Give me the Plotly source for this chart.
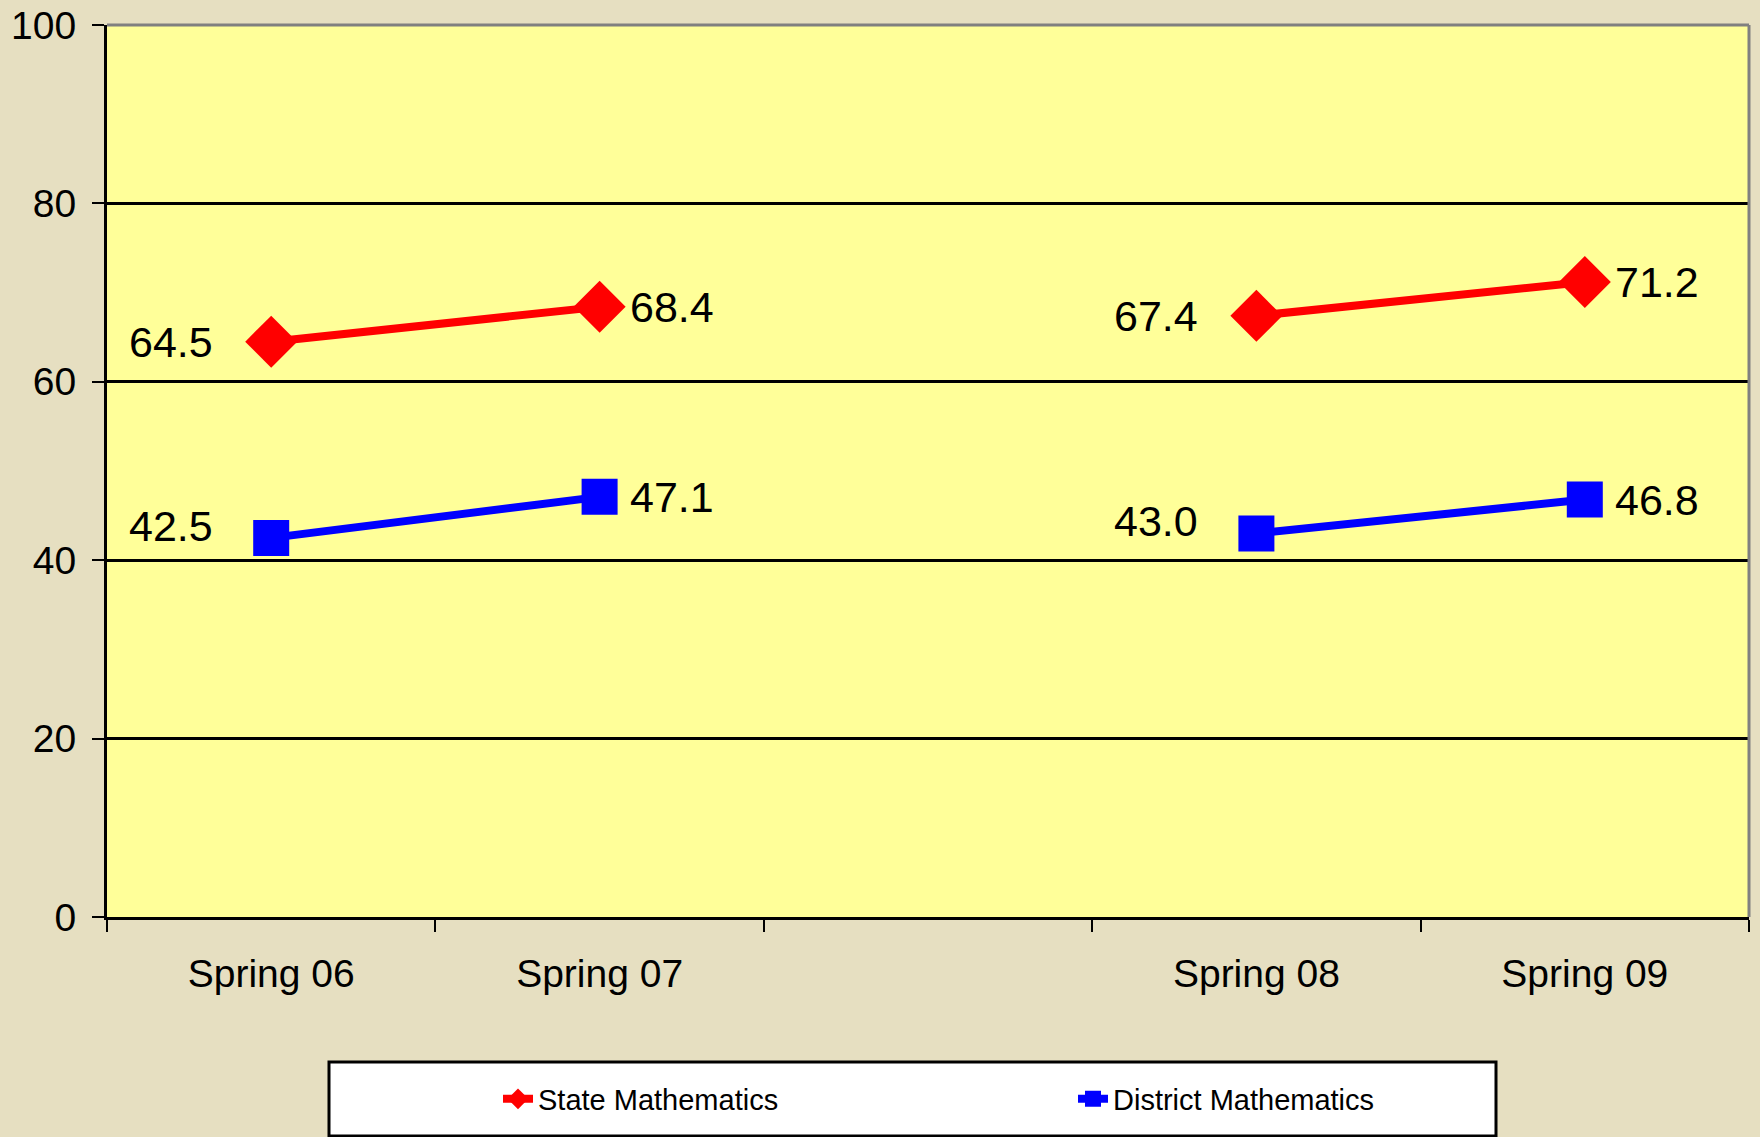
import plotly.graph_objects as go

categories = ["Spring 06", "Spring 07", " ", "Spring 08", "Spring 09"]
state_vals = [64.5, 68.4, None, 67.4, 71.2]
district_vals = [42.5, 47.1, None, 43.0, 46.8]
y_ticks = [0, 20, 40, 60, 80, 100]

W, H = 1760, 1137
L, R, T, B = 107, 11, 25, 220
pw, ph = W - L - R, H - T - B

FONT = "Liberation Sans, Arial, sans-serif"

fig = go.Figure()
fig.add_trace(go.Scatter(
    x=categories, y=state_vals, name="State Mathematics",
    mode="lines+markers",
    line=dict(color="#FF0000", width=8),
    marker=dict(symbol="diamond", size=40, color="#FF0000"),
))
fig.add_trace(go.Scatter(
    x=categories, y=district_vals, name="District Mathematics",
    mode="lines+markers",
    line=dict(color="#0000FF", width=8),
    marker=dict(symbol="square", size=36, color="#0000FF"),
))

# data labels: first of each pair on the left, second on the right
annotations = []
for vals, left_yshift in ((state_vals, 0), (district_vals, 12)):
    for i, (c, v) in enumerate(zip(categories, vals)):
        if v is None:
            continue
        is_left = i in (0, 3)
        annotations.append(dict(
            x=c, y=v, xref="x", yref="y", text=f"{v:.1f}", showarrow=False,
            xanchor="right" if is_left else "left",
            xshift=-56 if is_left else 28,
            yshift=left_yshift if is_left else 0,
            font=dict(family=FONT, size=43, color="black"),
        ))

def px_to_paper_x(px):
    return (px - L) / pw

def px_to_paper_y(py):
    return (H - B - py) / ph

shapes = [
    # legend box
    dict(type="rect", xref="paper", yref="paper",
         x0=px_to_paper_x(329), x1=px_to_paper_x(1496),
         y0=px_to_paper_y(1136), y1=px_to_paper_y(1062),
         fillcolor="white", line=dict(color="black", width=3), layer="above"),
    # grey top and right border of plot area
    dict(type="line", xref="paper", yref="paper", x0=0, x1=1, y0=1, y1=1,
         line=dict(color="#808080", width=3), layer="above"),
    dict(type="line", xref="paper", yref="paper", x0=1, x1=1, y0=0, y1=1,
         line=dict(color="#808080", width=3), layer="above"),
]

fig.update_layout(
    width=W, height=H, autosize=False,
    margin=dict(l=L, r=R, t=T, b=B, pad=0),
    paper_bgcolor="#E6DFC1",
    plot_bgcolor="#FFFF99",
    font=dict(family=FONT, color="black"),
    showlegend=True,
    legend=dict(
        orientation="h", x=px_to_paper_x(498), xanchor="left",
        y=px_to_paper_y(1099), yanchor="middle",
        bgcolor="rgba(0,0,0,0)", borderwidth=0,
        entrywidth=530, entrywidthmode="pixels",
        font=dict(family=FONT, size=29, color="black"),
    ),
    annotations=annotations,
    shapes=shapes,
    xaxis=dict(
        type="category", categoryorder="array", categoryarray=categories,
        range=[-0.5, 4.5], showgrid=False, zeroline=False, automargin=False,
        showline=True, linecolor="black", linewidth=3,
        ticks="outside", tickson="boundaries", ticklen=12, tickwidth=2,
        tickcolor="black",
        tickfont=dict(family=FONT, size=39, color="black"),
        ticklabelstandoff=20,
    ),
    yaxis=dict(
        range=[0, 100], tickvals=y_ticks, showgrid=True, automargin=False,
        gridcolor="black", gridwidth=2.5, zeroline=False,
        showline=True, linecolor="black", linewidth=3,
        ticks="outside", ticklen=12, tickwidth=2, tickcolor="black",
        tickfont=dict(family=FONT, size=39, color="black"),
        ticklabelstandoff=8,
    ),
)

fig.write_html(
    "out.html",
    config={"displayModeBar": False},
    post_script="document.body.style.margin='0';document.body.style.padding='0';",
)
